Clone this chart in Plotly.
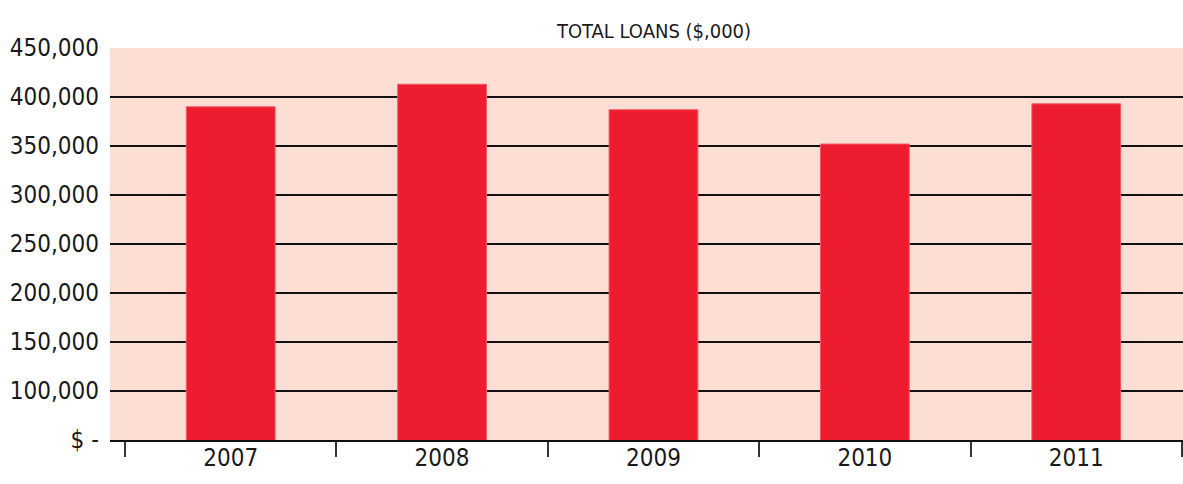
import plotly.graph_objects as go

years = ["2007", "2008", "2009", "2010", "2011"]
total_loans = [390000, 413000, 387000, 352000, 393000]
tick_values = [50000, 100000, 150000, 200000, 250000, 300000, 350000, 400000, 450000]
tick_labels = ["$ -", "100,000", "150,000", "200,000", "250,000", "300,000", "350,000", "400,000", "450,000"]

FONT = "Liberation Sans Narrow, DejaVu Sans Condensed, Roboto, sans-serif"

W, H = 1183, 484

fig = go.Figure()
fig.add_trace(go.Bar(
    x=years, y=total_loans, width=0.42,
    marker=dict(color="#ED1C2E", line=dict(color="#F25A66", width=1)),
))

fig.update_layout(
    width=W, height=H,
    margin=dict(l=110, r=0, t=48, b=44),
    paper_bgcolor="white",
    plot_bgcolor="#FCDED4",
    showlegend=False,
    font=dict(family=FONT, color="#1a1a1a"),
    title=dict(text="TOTAL LOANS ($,000)", x=654 / W, xanchor="center",
               y=1 - 31 / H, yanchor="middle",
               font=dict(family=FONT, size=20, color="#1a1a1a")),
)
fig.update_xaxes(
    type="category", range=[-0.571, 4.505],
    showgrid=False, showline=True, linecolor="#111111", linewidth=2,
    ticks="outside", tickson="boundaries", ticklen=15, tickwidth=2, tickcolor="#333333",
    tickfont=dict(family=FONT, size=24, color="#1a1a1a"),
    ticklabelstandoff=-5,
)
fig.update_yaxes(
    range=[50000, 450000], tickvals=tick_values, ticktext=tick_labels,
    showgrid=True, gridcolor="#111111", gridwidth=2,
    zeroline=False, showline=False, ticks="",
    tickfont=dict(family=FONT, size=24, color="#1a1a1a"),
    ticklabelstandoff=10,
)

fig.write_html(
    "out.html",
    config={"displayModeBar": False},
    post_script="document.body.style.margin='0';document.body.style.overflow='hidden';",
)
